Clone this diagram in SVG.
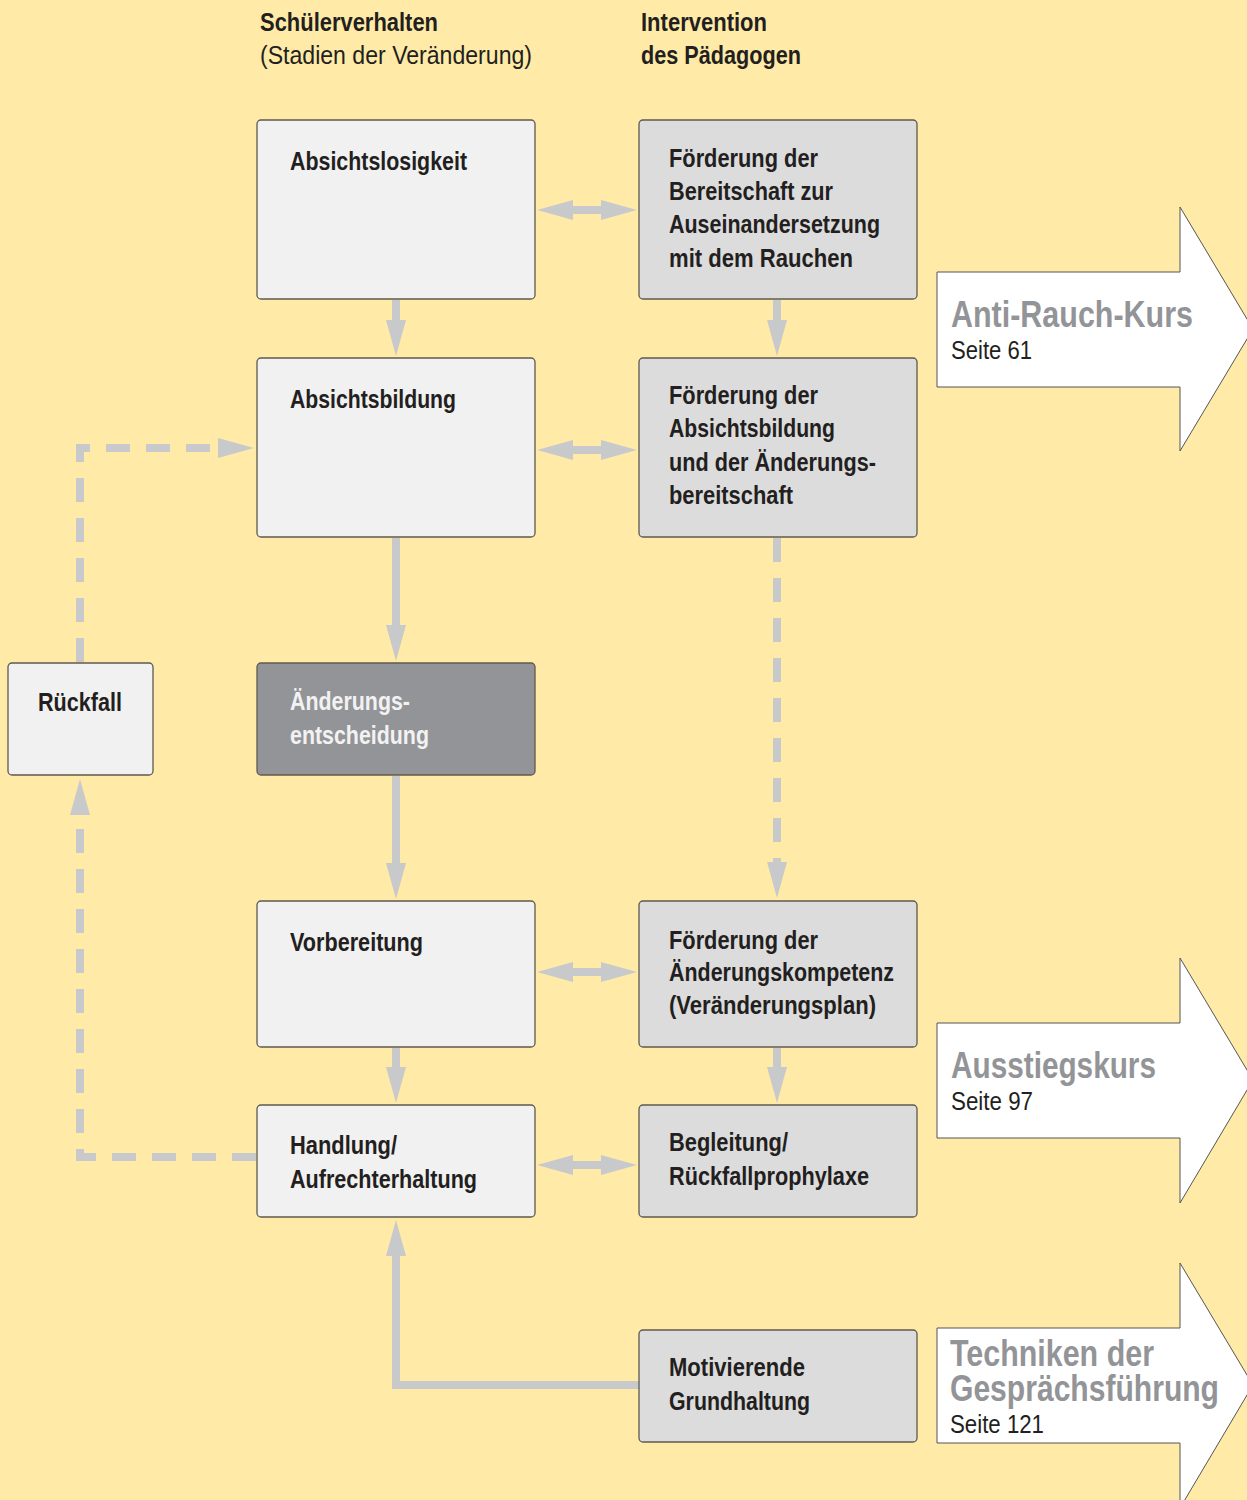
<svg xmlns="http://www.w3.org/2000/svg" width="1247" height="1500" viewBox="0 0 1247 1500">
<style>
.bg{fill:#FFEBA7}
.box{stroke:#5f5a4f;stroke-width:1.3}
.l{fill:#F1F1F1}
.m{fill:#DCDCDD}
.d{fill:#939497}
.t{font-family:"Liberation Sans",Arial,sans-serif;font-weight:bold;font-size:26px;fill:#231f20}
.r{font-family:"Liberation Sans",Arial,sans-serif;font-weight:normal;font-size:26px;fill:#231f20}
.w{fill:#F2F2F2}
.big{font-family:"Liberation Sans",Arial,sans-serif;font-weight:bold;font-size:36px;fill:#939497}
.ba{fill:#ffffff;stroke:#555;stroke-width:1}
.c{fill:none;stroke:#C8C9CB;stroke-width:8}
.ds{stroke-dasharray:24 16}
</style>
<defs>
<marker id="ah" markerUnits="userSpaceOnUse" markerWidth="36" markerHeight="20" refX="20" refY="10" orient="auto-start-reverse" viewBox="0 0 36 20">
<path d="M0,0 L36,10 L0,20 z" fill="#C8C9CB"/>
</marker>
</defs>
<rect class="bg" x="0" y="0" width="1247" height="1500"/>

<g id="headers">
<text class="t" x="260" y="31" textLength="178" lengthAdjust="spacingAndGlyphs">Schülerverhalten</text>
<text class="r" x="260" y="64" textLength="272" lengthAdjust="spacingAndGlyphs">(Stadien der Veränderung)</text>
<text class="t" x="641" y="31" textLength="126" lengthAdjust="spacingAndGlyphs">Intervention</text>
<text class="t" x="641" y="64" textLength="160" lengthAdjust="spacingAndGlyphs">des Pädagogen</text>
</g>

<g id="connectors">
<line class="c" x1="553" y1="210" x2="621" y2="210" marker-start="url(#ah)" marker-end="url(#ah)"/>
<line class="c" x1="553" y1="450" x2="621" y2="450" marker-start="url(#ah)" marker-end="url(#ah)"/>
<line class="c" x1="553" y1="972" x2="621" y2="972" marker-start="url(#ah)" marker-end="url(#ah)"/>
<line class="c" x1="553" y1="1165" x2="621" y2="1165" marker-start="url(#ah)" marker-end="url(#ah)"/>
<line class="c" x1="396" y1="300" x2="396" y2="340" marker-end="url(#ah)"/>
<line class="c" x1="396" y1="538" x2="396" y2="645" marker-end="url(#ah)"/>
<line class="c" x1="396" y1="776" x2="396" y2="883" marker-end="url(#ah)"/>
<line class="c" x1="396" y1="1048" x2="396" y2="1087" marker-end="url(#ah)"/>
<line class="c" x1="777" y1="300" x2="777" y2="340" marker-end="url(#ah)"/>
<line class="c ds" x1="777" y1="538" x2="777" y2="882" marker-end="url(#ah)"/>
<line class="c" x1="777" y1="1048" x2="777" y2="1087" marker-end="url(#ah)"/>
<path class="c ds" d="M256,1157 H80 V795" marker-end="url(#ah)"/>
<path class="c ds" d="M80,662 V448 H238" marker-end="url(#ah)"/>
<path class="c" d="M639,1385 H396 V1236" marker-end="url(#ah)"/>
</g>

<g id="n-absichtslosigkeit">
<rect class="box l" x="257" y="120" width="278" height="179" rx="4"/>
<text class="t" x="290" y="170" textLength="177" lengthAdjust="spacingAndGlyphs">Absichtslosigkeit</text>
</g>
<g id="n-foerderung-bereitschaft">
<rect class="box m" x="639" y="120" width="278" height="179" rx="4"/>
<text class="t" x="669" y="167" textLength="149" lengthAdjust="spacingAndGlyphs">Förderung der</text>
<text class="t" x="669" y="200" textLength="164" lengthAdjust="spacingAndGlyphs">Bereitschaft zur</text>
<text class="t" x="669" y="233" textLength="211" lengthAdjust="spacingAndGlyphs">Auseinandersetzung</text>
<text class="t" x="669" y="267" textLength="184" lengthAdjust="spacingAndGlyphs">mit dem Rauchen</text>
</g>
<g id="n-absichtsbildung">
<rect class="box l" x="257" y="358" width="278" height="179" rx="4"/>
<text class="t" x="290" y="408" textLength="166" lengthAdjust="spacingAndGlyphs">Absichtsbildung</text>
</g>
<g id="n-foerderung-absichtsbildung">
<rect class="box m" x="639" y="358" width="278" height="179" rx="4"/>
<text class="t" x="669" y="404" textLength="149" lengthAdjust="spacingAndGlyphs">Förderung der</text>
<text class="t" x="669" y="437" textLength="166" lengthAdjust="spacingAndGlyphs">Absichtsbildung</text>
<text class="t" x="669" y="471" textLength="207" lengthAdjust="spacingAndGlyphs">und der Änderungs-</text>
<text class="t" x="669" y="504" textLength="124" lengthAdjust="spacingAndGlyphs">bereitschaft</text>
</g>
<g id="n-rueckfall">
<rect class="box l" x="8" y="663" width="145" height="112" rx="4"/>
<text class="t" x="38" y="711" textLength="84" lengthAdjust="spacingAndGlyphs">Rückfall</text>
</g>
<g id="n-aenderungsentscheidung">
<rect class="box d" x="257" y="663" width="278" height="112" rx="4"/>
<text class="t w" x="290" y="710" textLength="120" lengthAdjust="spacingAndGlyphs">Änderungs-</text>
<text class="t w" x="290" y="744" textLength="139" lengthAdjust="spacingAndGlyphs">entscheidung</text>
</g>
<g id="n-vorbereitung">
<rect class="box l" x="257" y="901" width="278" height="146" rx="4"/>
<text class="t" x="290" y="951" textLength="133" lengthAdjust="spacingAndGlyphs">Vorbereitung</text>
</g>
<g id="n-foerderung-kompetenz">
<rect class="box m" x="639" y="901" width="278" height="146" rx="4"/>
<text class="t" x="669" y="949" textLength="149" lengthAdjust="spacingAndGlyphs">Förderung der</text>
<text class="t" x="669" y="981" textLength="225" lengthAdjust="spacingAndGlyphs">Änderungskompetenz</text>
<text class="t" x="669" y="1014" textLength="207" lengthAdjust="spacingAndGlyphs">(Veränderungsplan)</text>
</g>
<g id="n-handlung">
<rect class="box l" x="257" y="1105" width="278" height="112" rx="4"/>
<text class="t" x="290" y="1154" textLength="107" lengthAdjust="spacingAndGlyphs">Handlung/</text>
<text class="t" x="290" y="1188" textLength="187" lengthAdjust="spacingAndGlyphs">Aufrechterhaltung</text>
</g>
<g id="n-begleitung">
<rect class="box m" x="639" y="1105" width="278" height="112" rx="4"/>
<text class="t" x="669" y="1151" textLength="119" lengthAdjust="spacingAndGlyphs">Begleitung/</text>
<text class="t" x="669" y="1185" textLength="200" lengthAdjust="spacingAndGlyphs">Rückfallprophylaxe</text>
</g>
<g id="n-motivierende">
<rect class="box m" x="639" y="1330" width="278" height="112" rx="4"/>
<text class="t" x="669" y="1376" textLength="136" lengthAdjust="spacingAndGlyphs">Motivierende</text>
<text class="t" x="669" y="1410" textLength="141" lengthAdjust="spacingAndGlyphs">Grundhaltung</text>
</g>

<g id="n-anti-rauch-kurs">
<polygon class="ba" points="937,272 1180,272 1180,207 1253,329 1180,451 1180,387 937,387"/>
<text class="big" x="951" y="327" textLength="242" lengthAdjust="spacingAndGlyphs">Anti-Rauch-Kurs</text>
<text class="r" x="951" y="359" textLength="81" lengthAdjust="spacingAndGlyphs">Seite 61</text>
</g>
<g id="n-ausstiegskurs">
<polygon class="ba" points="937,1023 1180,1023 1180,958 1253,1080 1180,1203 1180,1138 937,1138"/>
<text class="big" x="951" y="1078" textLength="205" lengthAdjust="spacingAndGlyphs">Ausstiegskurs</text>
<text class="r" x="951" y="1110" textLength="82" lengthAdjust="spacingAndGlyphs">Seite 97</text>
</g>
<g id="n-techniken">
<polygon class="ba" points="937,1328 1180,1328 1180,1263 1253,1385 1180,1508 1180,1443 937,1443"/>
<text class="big" x="950" y="1366" textLength="204" lengthAdjust="spacingAndGlyphs">Techniken der</text>
<text class="big" x="950" y="1401" textLength="269" lengthAdjust="spacingAndGlyphs">Gesprächsführung</text>
<text class="r" x="950" y="1433" textLength="94" lengthAdjust="spacingAndGlyphs">Seite 121</text>
</g>
</svg>
